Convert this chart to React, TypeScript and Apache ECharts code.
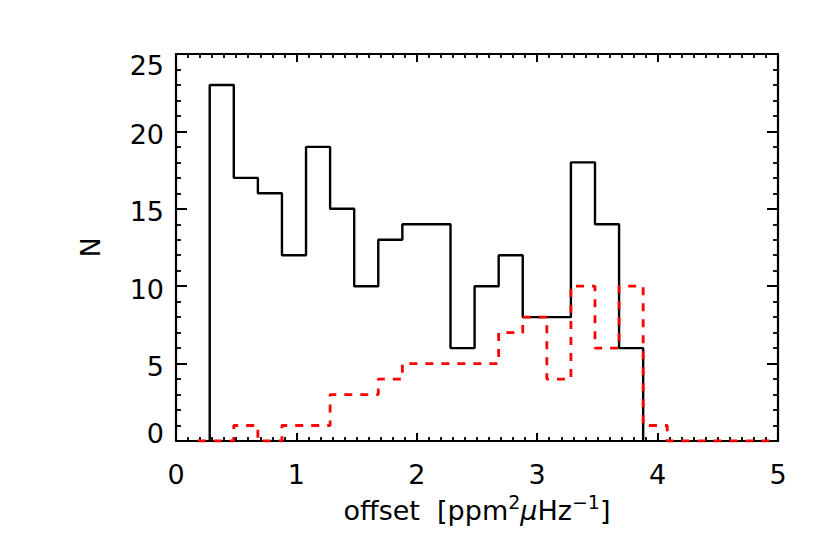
import React, { useEffect, useRef } from "react";
import * as echarts from "echarts";

// Histogram bin edges and counts (black: full sample, red dashed: subsample)
const blackEdges = [0.28, 0.48, 0.68, 0.88, 1.08, 1.28, 1.48, 1.68, 1.88, 2.08, 2.28, 2.48, 2.68, 2.88, 3.08, 3.28, 3.48, 3.68, 3.88];
const blackCounts = [23, 17, 16, 12, 19, 15, 10, 13, 14, 14, 6, 10, 12, 8, 8, 18, 14, 6];

const redEdges = [0.18, 0.28, 0.48, 0.68, 0.88, 1.08, 1.28, 1.48, 1.68, 1.88, 2.08, 2.28, 2.48, 2.68, 2.88, 3.08, 3.28, 3.48, 3.68, 3.88, 4.08, 4.98];
const redCounts = [0, 0, 1, 0, 1, 1, 3, 3, 4, 5, 5, 5, 5, 7, 8, 4, 10, 6, 10, 1, 0];

const xTicks = [0, 1, 2, 3, 4, 5];
const yTicks = [0, 5, 10, 15, 20, 25];

const FONT = "DejaVu Sans";
const FS = 27;
const FW = "normal";

function stepPath(edges: number[], counts: number[]): number[][] {
  const pts: number[][] = [[edges[0], 0]];
  for (let i = 0; i < counts.length; i++) {
    pts.push([edges[i], counts[i]]);
    pts.push([edges[i + 1], counts[i]]);
  }
  pts.push([edges[edges.length - 1], 0]);
  return pts;
}

export default function App() {
  const ref = useRef<HTMLDivElement>(null);
  useEffect(() => {
    if (!ref.current) return;
    const chart = echarts.init(ref.current, undefined, { renderer: "svg" });
    const xMin = xTicks[0];
    const xMax = xTicks[xTicks.length - 1];
    const yMin = yTicks[0];
    const yMax = yTicks[yTicks.length - 1];
    const axisLine = { show: true, onZero: false, lineStyle: { color: "#000", width: 2.2 } };
    const baseText = { fontFamily: FONT, fontSize: FS, fontWeight: FW, color: "#000" };
    chart.setOption({
      animation: false,
      backgroundColor: "#fff",
      grid: { left: 176, top: 54, right: 52, bottom: 112, containLabel: false },
      xAxis: [
        {
          type: "value",
          position: "bottom",
          min: xMin,
          max: xMax,
          interval: 1,
          axisLine,
          axisTick: { show: true, inside: true, length: 8, lineStyle: { color: "#000", width: 2 } },
          minorTick: { show: true, splitNumber: 10, length: 4, lineStyle: { color: "#000", width: 1.8 } },
          splitLine: { show: false },
          axisLabel: { ...baseText, margin: 20 },
          name: "offset  [ppm{sup|2}{mu|μ}Hz{sup|−1}]",
          nameLocation: "middle",
          nameGap: 50,
          nameTextStyle: {
            ...baseText,
            fontSize: 27,
            rich: {
              sup: { fontFamily: FONT, fontWeight: FW, fontSize: 19, color: "#000", padding: [0, 0, 16, 0] },
              mu: { fontFamily: FONT, fontWeight: FW, fontSize: 27, color: "#000", fontStyle: "italic" },
            },
          },
        },
        {
          type: "value",
          position: "top",
          min: xMin,
          max: xMax,
          interval: 1,
          axisLine,
          axisTick: { show: true, inside: true, length: 8, lineStyle: { color: "#000", width: 2 } },
          minorTick: { show: true, splitNumber: 10, length: 4, lineStyle: { color: "#000", width: 1.8 } },
          splitLine: { show: false },
          axisLabel: { show: false },
        },
      ],
      yAxis: [
        {
          type: "value",
          position: "left",
          min: yMin,
          max: yMax,
          interval: 5,
          axisLine,
          axisTick: { show: true, inside: true, length: 11, lineStyle: { color: "#000", width: 2 } },
          minorTick: { show: true, splitNumber: 5, length: 5, lineStyle: { color: "#000", width: 1.8 } },
          splitLine: { show: false },
          axisLabel: {
            ...baseText,
            margin: 12,
            formatter: (v: number) =>
              v === yMax ? `{t|${v}}` : v === yMin ? `{b|${v}}` : `{m|${v}}`,
            rich: {
              t: { ...baseText, padding: [22, 0, 0, 0] },
              b: { ...baseText, padding: [0, 0, 16, 0] },
              m: { ...baseText, padding: [6, 0, 0, 0] },
            },
          },
          name: "N",
          nameLocation: "middle",
          nameRotate: 90,
          nameGap: 72,
          nameTextStyle: { ...baseText },
        },
        {
          type: "value",
          position: "right",
          min: yMin,
          max: yMax,
          interval: 5,
          axisLine,
          axisTick: { show: true, inside: true, length: 11, lineStyle: { color: "#000", width: 2 } },
          minorTick: { show: true, splitNumber: 5, length: 5, lineStyle: { color: "#000", width: 1.8 } },
          splitLine: { show: false },
          axisLabel: { show: false },
        },
      ],
      series: [
        {
          type: "line",
          xAxisIndex: 0,
          yAxisIndex: 0,
          data: stepPath(blackEdges, blackCounts),
          symbol: "none",
          showSymbol: false,
          lineStyle: { color: "#000", width: 2.4 },
          z: 2,
        },
        {
          type: "line",
          xAxisIndex: 0,
          yAxisIndex: 0,
          data: stepPath(redEdges, redCounts),
          symbol: "none",
          showSymbol: false,
          lineStyle: { color: "#ff0000", width: 2.8, type: [8, 8] },
          z: 3,
        },
      ],
    });
    return () => chart.dispose();
  }, []);
  return (
    <div
      ref={ref}
      style={{ position: "absolute", left: 0, top: 0, width: 830, height: 553, background: "#fff" }}
    />
  );
}
